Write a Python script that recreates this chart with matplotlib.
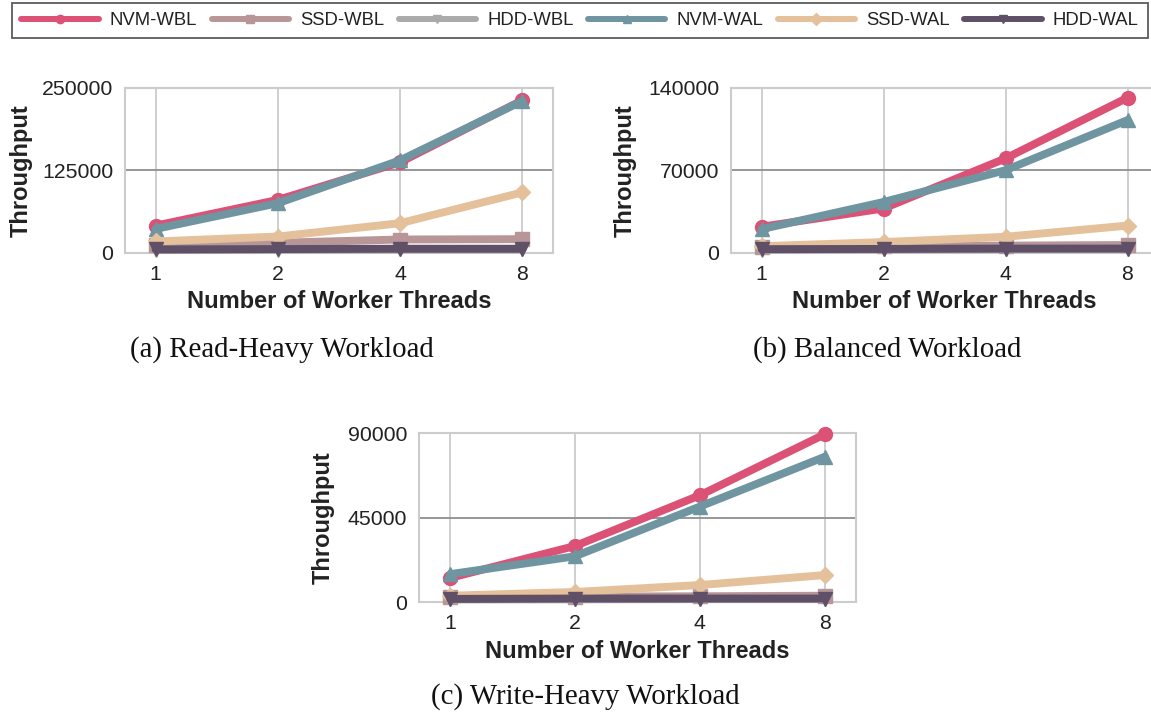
import matplotlib
matplotlib.use('Agg')
import matplotlib.pyplot as plt
from matplotlib.lines import Line2D

# ---------------- data ----------------
threads = ['1', '2', '4', '8']
series_names = ['NVM-WBL', 'SSD-WBL', 'HDD-WBL', 'NVM-WAL', 'SSD-WAL', 'HDD-WAL']

# Read-heavy workload (order follows series_names)
read_nvm_wbl = [41000, 80000, 137000, 231000]
read_ssd_wbl = [11000, 15000, 20000, 20500]
read_hdd_wbl = [4000, 4500, 5000, 5000]
read_nvm_wal = [36000, 75000, 140000, 230000]
read_ssd_wal = [17000, 24500, 44700, 91400]
read_hdd_wal = [5000, 5500, 6000, 6000]

# Balanced workload
bal_nvm_wbl = [22000, 37500, 80000, 131500]
bal_ssd_wbl = [5000, 5500, 6000, 6500]
bal_hdd_wbl = [2500, 2800, 3000, 3000]
bal_nvm_wal = [20000, 43000, 70000, 112500]
bal_ssd_wal = [5500, 9000, 13500, 23000]
bal_hdd_wal = [3000, 3200, 3500, 3500]

# Write-heavy workload
write_nvm_wbl = [13000, 30000, 57000, 89500]
write_ssd_wbl = [3000, 3000, 3200, 3500]
write_hdd_wbl = [1500, 1600, 1700, 1700]
write_nvm_wal = [15000, 24500, 51000, 77500]
write_ssd_wal = [3500, 5500, 9200, 14500]
write_hdd_wal = [1800, 2000, 2000, 2000]

read_ymax, bal_ymax, write_ymax = 250000, 140000, 90000
captions = ['(a) Read-Heavy Workload', '(b) Balanced Workload', '(c) Write-Heavy Workload']

# ---------------- style ----------------
colors = ['#dc5176', '#b89698', '#aaaaaa', '#6f95a1', '#e4c19a', '#5f5068']
markers = ['o', 's', 'v', '^', 'D', 'v']
msizes = [10, 10, 10, 10.5, 8, 10]
W, H = 1151, 713
plt.rcParams['font.family'] = ['Liberation Sans', 'DejaVu Sans']

fig = plt.figure(figsize=(W / 100, H / 100), dpi=100)

panels = [
    dict(vals=[read_nvm_wbl, read_ssd_wbl, read_hdd_wbl, read_nvm_wal, read_ssd_wal, read_hdd_wal],
         ymax=read_ymax, box=(125, 87.7, 553, 252.7), ylab_right=32.7, cap=(282, 348)),
    dict(vals=[bal_nvm_wbl, bal_ssd_wbl, bal_hdd_wbl, bal_nvm_wal, bal_ssd_wal, bal_hdd_wal],
         ymax=bal_ymax, box=(731, 87.7, 1158, 252.7), ylab_right=637, cap=(887, 348)),
    dict(vals=[write_nvm_wbl, write_ssd_wbl, write_hdd_wbl, write_nvm_wal, write_ssd_wal, write_hdd_wal],
         ymax=write_ymax, box=(419, 433.3, 856, 602.3), ylab_right=335, cap=(585, 695)),
]

grid_c = '#cccccc'
for p, cap in zip(panels, captions):
    x0, y0, x1, y1 = p['box']
    ax = fig.add_axes([x0 / W, 1 - y1 / H, (x1 - x0) / W, (y1 - y0) / H])
    ax.set_facecolor('white')
    xs = list(range(len(threads)))
    for i in xs:
        ax.axvline(i, color=grid_c, lw=1.3, zorder=0)
    ax.axhline(p['ymax'] / 2, color='#8f8f8f', lw=1.3, zorder=0)
    for v, c, m, ms in zip(p['vals'], colors, markers, msizes):
        ax.plot(xs, v, color=c, marker=m, lw=5.7, ms=ms, mec=c, mfc=c,
                solid_capstyle='round', clip_on=False, zorder=3)
    ax.set_xlim(-0.25, 3.25)
    ax.set_ylim(0, p['ymax'])
    ax.set_xticks(xs)
    ax.set_xticklabels(threads)
    ax.set_yticks([0, p['ymax'] / 2, p['ymax']])
    ax.set_yticklabels([str(int(t)) for t in [0, p['ymax'] / 2, p['ymax']]])
    ax.tick_params(length=0, labelsize=15.3, colors='#222222', pad=8.5)
    for s in ax.spines.values():
        s.set_color(grid_c)
        s.set_linewidth(1.5)
    ax.set_xlabel('Number of Worker Threads', fontsize=17, fontweight='bold',
                  color='#222222', labelpad=5)
    ax.set_ylabel('Throughput', fontsize=17, fontweight='bold', color='#222222')
    ax.yaxis.set_label_coords((p['ylab_right'] - x0) / (x1 - x0), 0.5)
    fig.text(p['cap'][0] / W, 1 - (p['cap'][1] + 1.5) / H, cap, ha='center', va='center',
             family=['Liberation Serif', 'DejaVu Serif'], fontsize=20.8, color='#111111')

handles = [Line2D([], [], color=c, marker=m, lw=4.3, ms=6, mec=c, mfc=c,
                  solid_capstyle='round')
           for c, m in zip(colors, markers)]
leg = fig.legend(handles, series_names, loc='upper left', ncol=6, mode='expand',
                 bbox_to_anchor=(12 / W, 1 - 3 / H, (1148 - 12) / W, 0.0),
                 bbox_transform=fig.transFigure,
                 fontsize=13.3, handlelength=4.2, handletextpad=0.6, columnspacing=0.5,
                 fancybox=False, frameon=True, borderaxespad=0, borderpad=0.5)
leg.get_frame().set_edgecolor('#333333')
leg.get_frame().set_linewidth(1.3)
for t in leg.get_texts():
    t.set_color('#222222')

fig.savefig('out.png', dpi=100, facecolor='white')
